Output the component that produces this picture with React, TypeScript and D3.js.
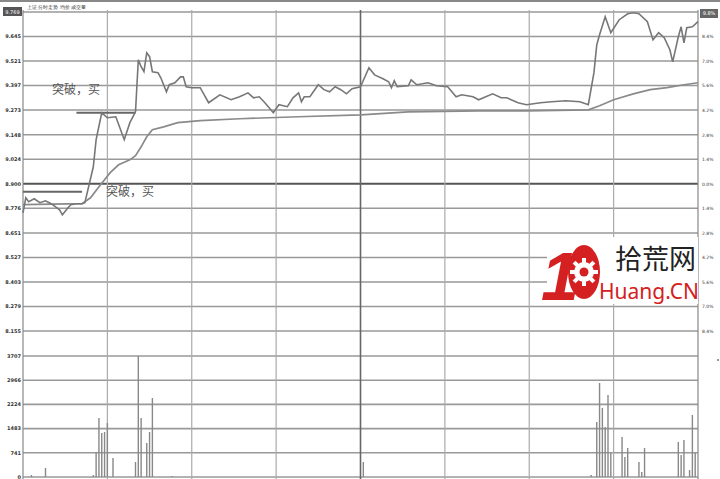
import React from 'react';
import * as d3 from 'd3';

// intraday price (minute index from 9:30, price)
const priceMinutes = [0, 1, 2, 4, 6, 8, 10, 11, 13, 14, 16, 17, 19, 21, 22, 25, 26, 28, 30, 33, 36, 38, 40, 41, 42, 43, 44, 45, 46, 48, 49, 51, 52, 54, 56, 57, 58, 60, 63, 66, 70, 74, 77, 80, 82, 84, 86, 89, 91, 94, 96, 98, 99, 100, 102, 105, 107, 109, 111, 113, 115, 117, 120, 123, 125, 128, 130, 131, 132, 133, 137, 138, 140, 144, 147, 151, 154, 156, 160, 162, 167, 170, 172, 176, 179, 184, 188, 193, 198, 201, 203, 204, 205, 207, 209, 212, 215, 217, 219, 222, 224, 226, 228, 230, 231, 233, 234, 235, 236, 238, 240];
const priceValues = [8.753, 8.829, 8.809, 8.824, 8.804, 8.814, 8.799, 8.789, 8.768, 8.743, 8.779, 8.794, 8.799, 8.799, 8.804, 8.986, 9.123, 9.259, 9.234, 9.239, 9.123, 9.209, 9.264, 9.527, 9.492, 9.467, 9.563, 9.543, 9.467, 9.462, 9.436, 9.365, 9.401, 9.411, 9.441, 9.441, 9.391, 9.386, 9.386, 9.310, 9.350, 9.325, 9.340, 9.360, 9.335, 9.340, 9.310, 9.259, 9.300, 9.290, 9.335, 9.360, 9.315, 9.340, 9.340, 9.401, 9.376, 9.365, 9.391, 9.376, 9.355, 9.381, 9.391, 9.487, 9.451, 9.431, 9.416, 9.386, 9.421, 9.391, 9.396, 9.426, 9.401, 9.411, 9.396, 9.391, 9.340, 9.350, 9.340, 9.325, 9.355, 9.335, 9.335, 9.310, 9.300, 9.310, 9.315, 9.320, 9.315, 9.300, 9.462, 9.603, 9.654, 9.745, 9.664, 9.730, 9.760, 9.765, 9.760, 9.720, 9.628, 9.664, 9.639, 9.578, 9.517, 9.644, 9.694, 9.613, 9.689, 9.694, 9.720];

// average price line
const avgMinutes = [0, 21, 24, 27, 31, 34, 38, 40, 42, 44, 46, 50, 55, 63, 77, 98, 120, 137, 162, 179, 201, 205, 210, 217, 223, 229, 235, 240];
const avgValues = [8.794, 8.799, 8.829, 8.885, 8.956, 8.996, 9.021, 9.042, 9.087, 9.138, 9.173, 9.188, 9.209, 9.219, 9.229, 9.239, 9.249, 9.264, 9.269, 9.269, 9.274, 9.295, 9.325, 9.355, 9.376, 9.386, 9.401, 9.411];

// volume bars
const volMinutes = [3, 8, 25, 26, 27, 28, 29, 30, 32, 40, 41, 42, 44, 45, 46, 53, 121, 202, 204, 205, 206, 207, 208, 209, 213, 214, 215, 219, 220, 221, 233, 234, 235, 237, 238, 239];
const volValues = [61, 276, 61, 766, 1808, 1348, 1379, 1654, 582, 460, 3707, 1808, 1042, 1379, 2421, 30, 460, 61, 1685, 2880, 2114, 1532, 2512, 735, 1226, 613, 889, 460, 153, 889, 1072, 674, 1134, 214, 1900, 735];

const priceTickLabels = ['9.769', '9.645', '9.521', '9.397', '9.273', '9.148', '9.024', '8.900', '8.776', '8.651', '8.527', '8.403', '8.279', '8.155'];
const pctTickLabels = ['9.8%', '8.4%', '7.0%', '5.6%', '4.2%', '2.8%', '1.4%', '0.0%', '1.4%', '2.8%', '4.2%', '5.6%', '7.0%', '8.4%'];
const volTickLabels = ['3707', '2966', '2224', '1483', '741', '0'];

// breakout marks: [from minute, to minute, price]
const breakStarts = [0, 19];
const breakEnds = [21, 40];
const breakPrices = [8.86, 9.259];

const W = 720;
const H = 479;
const left = 23;
const right = 698;

const App: React.FC = () => {
  const x = d3.scaleLinear().domain([0, 240]).range([left, right]);
  const y = d3.scaleLinear().domain([8.155, 9.769]).range([331, 12]);
  const yv = d3.scaleLinear().domain([0, 3707]).range([477, 356]);

  const line = d3.line<[number, number]>()
    .x(d => x(d[0]))
    .y(d => y(d[1]))
    .curve(d3.curveLinear);

  const pricePts = priceMinutes.map((m, i) => [m, priceValues[i]] as [number, number]);
  const avgPts = avgMinutes.map((m, i) => [m, avgValues[i]] as [number, number]);

  const vLines = d3.range(0, 241, 30);

  return (
    <svg width={W} height={H} style={{ position: 'fixed', left: 0, top: 0, background: '#fff' }}
      fontFamily="'DejaVu Sans', sans-serif">
      <rect x={0} y={0} width={W} height={H} fill="#fff" />
      <rect x={0} y={0} width={W} height={2} fill="#888" />
      <text x={27} y={9} fontSize={4.5} fill="#333">上证  分时走势  均价  成交量</text>

      {/* horizontal grid */}
      {priceTickLabels.map((t, i) => (
        <line key={'hp' + i} x1={left} x2={right} y1={y(+t)} y2={y(+t)}
          stroke={t === '8.900' ? '#555' : '#999'} strokeWidth={t === '8.900' ? 2.2 : 1.6} />
      ))}
      {volTickLabels.map((t, i) => (
        <line key={'hv' + i} x1={left} x2={right} y1={yv(+t)} y2={yv(+t)} stroke="#999" strokeWidth={1.6} />
      ))}

      {/* vertical grid */}
      {vLines.map(m => (
        <line key={'v' + m} x1={x(m)} x2={x(m)} y1={10} y2={H}
          stroke={m === 120 ? '#666' : m === 0 || m === 240 ? '#888' : '#aaa'}
          strokeWidth={m === 120 ? 1.6 : 1.2} />
      ))}

      {/* left price labels */}
      {priceTickLabels.map((t, i) => (
        i === 0 ? (
          <g key={'pl' + i}>
            <rect x={3} y={y(+t) - 5} width={19} height={9} fill="#555" />
            <text x={12.5} y={y(+t) + 1.8} fontSize={5} fill="#fff" textAnchor="middle">{t}</text>
          </g>
        ) : (
          <text key={'pl' + i} x={21} y={y(+t) + 1.8} fontSize={5} fill="#333" textAnchor="end" fontWeight="bold">{t}</text>
        )
      ))}
      {/* right pct labels */}
      {pctTickLabels.map((t, i) => (
        i === 0 ? (
          <g key={'pr' + i}>
            <rect x={700} y={y(+priceTickLabels[i]) - 3} width={18} height={9} fill="#666" />
            <text x={709} y={y(+priceTickLabels[i]) + 3} fontSize={5} fill="#fff" textAnchor="middle">{t}</text>
          </g>
        ) : (
          <text key={'pr' + i} x={702} y={y(+priceTickLabels[i]) + 1.8} fontSize={4.5} fill="#333">{t}</text>
        )
      ))}
      {volTickLabels.map((t, i) => (
        <text key={'vl' + i} x={21} y={yv(+t) + 1.8} fontSize={5} fill="#333" textAnchor="end" fontWeight="bold">{t}</text>
      ))}
      <circle cx={718} cy={360} r={1} fill="#777" />

      {/* volume */}
      {volMinutes.map((m, i) => (
        <line key={'b' + i} x1={x(m)} x2={x(m)} y1={yv(0)} y2={yv(volValues[i])} stroke="#888" strokeWidth={1.4} />
      ))}

      {/* breakout marks */}
      {breakStarts.map((s, i) => (
        <line key={'bk' + i} x1={x(s)} x2={x(breakEnds[i])} y1={y(breakPrices[i])} y2={y(breakPrices[i])}
          stroke="#666" strokeWidth={2} />
      ))}

      <path d={line(avgPts) || ''} fill="none" stroke="#8a8a8a" strokeWidth={1.7} />
      <path d={line(pricePts) || ''} fill="none" stroke="#777" strokeWidth={1.6} />

      <text x={52} y={94} fontSize={12} fill="#555" fontFamily="'Noto Sans CJK SC', sans-serif">突破，买</text>
      <text x={106} y={196} fontSize={12} fill="#555" fontFamily="'Noto Sans CJK SC', sans-serif">突破，买</text>

      {/* watermark */}
      <g>
        <rect x={547} y={237} width={151} height={67} fill="#fff" />
        <text x={541} y={300} fontSize={68} fontWeight="bold" fontStyle="italic" fill="#d42020"
          fontFamily="'Liberation Sans', sans-serif">1</text>
        <ellipse cx={584} cy={272} rx={16} ry={27} fill="#d42020" />
        <circle cx={584} cy={272} r={10} fill="#fff" />
        {d3.range(8).map(k => (
          <rect key={'g' + k} x={582} y={258} width={4} height={5} fill="#fff"
            transform={`rotate(${k * 45} 584 272)`} />
        ))}
        <circle cx={584} cy={272} r={4.5} fill="#d42020" />
        <text x={615} y={269} fontSize={27} fill="#222" fontFamily="'Noto Sans CJK SC', sans-serif">拾荒网</text>
        <text x={599} y={299} fontSize={21} fill="#d42020" fontFamily="'Noto Sans', sans-serif">Huang.CN</text>
      </g>
    </svg>
  );
};

export default App;
